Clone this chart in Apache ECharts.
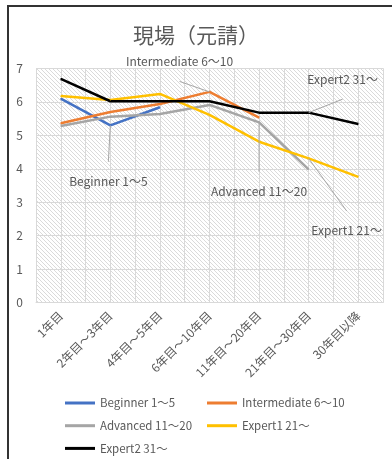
<!DOCTYPE html>
<html>
<head>
<meta charset="utf-8">
<script src="https://cdn.jsdelivr.net/npm/echarts@6/dist/echarts.min.js"></script>
<style>
  html, body { margin: 0; padding: 0; background: #fff; }
  #chart { width: 392px; height: 459px; }
</style>
</head>
<body>
<div id="chart"></div>
<script>
// Categories (years of experience) and average scores per group
const categories = ['1年目', '2年目～3年目', '4年目～5年目', '6年目～10年目', '11年目～20年目', '21年目～30年目', '30年目以降'];
const beginner     = [6.10, 5.30, 5.84, null, null, null, null];
const intermediate = [5.36, 5.70, 5.94, 6.30, 5.53, null, null];
const advanced     = [5.28, 5.56, 5.64, 5.91, 5.39, 3.98, null];
const expert1      = [6.18, 6.06, 6.24, 5.61, 4.81, 4.31, 3.76];
const expert2      = [6.69, 6.02, 6.02, 6.02, 5.68, 5.68, 5.34];
const yTicks = [0, 1, 2, 3, 4, 5, 6, 7];

const FONT = '"Noto Sans CJK JP", "Noto Sans", sans-serif';
const TEXT = '#595959';

// diagonal hatch used as the plot background
function hatch() {
  const c = document.createElement('canvas');
  c.width = 4; c.height = 4;
  const g = c.getContext('2d');
  g.fillStyle = '#ffffff';
  g.fillRect(0, 0, 4, 4);
  g.strokeStyle = '#dadada';
  g.lineWidth = 1;
  g.beginPath();
  g.moveTo(-1, -1); g.lineTo(5, 5);
  g.moveTo(-1, 3); g.lineTo(1, 5);
  g.moveTo(3, -1); g.lineTo(5, 1);
  g.stroke();
  return { image: c, repeat: 'repeat' };
}

// series definitions: which point carries the name callout and its offset
const seriesDefs = [
  { name: 'Beginner 1～5',      values: beginner,     color: '#4472C4', labelIdx: 1, dx: -2, dy: 56 },
  { name: 'Intermediate 6～10', values: intermediate, color: '#ED7D31', labelIdx: 3, dx: -30, dy: -30 },
  { name: 'Advanced 11～20',    values: advanced,     color: '#A5A5A5', labelIdx: 4, dx: 0, dy: 69 },
  { name: 'Expert1 21～',       values: expert1,      color: '#FFC000', labelIdx: 5, dx: 38, dy: 72 },
  { name: 'Expert2 31～',       values: expert2,      color: '#000000', labelIdx: 5, dx: 34, dy: -33 }
];

function makeSeries(d) {
  return {
    name: d.name,
    type: 'line',
    data: d.values.map((v, i) => i === d.labelIdx
      ? { value: v, label: { show: true, formatter: d.name } }
      : v),
    symbol: 'circle',
    symbolSize: 1,
    showSymbol: true,
    connectNulls: false,
    lineStyle: { color: d.color, width: 2.5 },
    itemStyle: { color: d.color },
    label: {
      show: false, position: 'inside',
      fontFamily: FONT, fontSize: 12, color: TEXT
    },
    labelLayout: { dx: d.dx, dy: d.dy, hideOverlap: false },
    emphasis: { disabled: true }
  };
}

const frame = {
  type: 'rect',
  shape: { x: 8, y: 6, width: 430, height: 480 },
  style: { fill: 'none', stroke: '#333', lineWidth: 2 },
  silent: true
};

const legendText = { fontFamily: FONT, fontSize: 11.5, color: TEXT, lineHeight: 14 };

const chart = echarts.init(document.getElementById('chart'), null, { renderer: 'canvas' });
chart.setOption({
  animation: false,
  backgroundColor: '#ffffff',
  title: {
    text: '現場（元請）',
    left: 'center',
    top: 20,
    textStyle: { fontFamily: FONT, fontSize: 21, fontWeight: 'normal', color: TEXT }
  },
  graphic: [frame],
  grid: {
    left: 36, right: 9, top: 68.5, bottom: 156.5,
    show: true, borderWidth: 0,
    backgroundColor: hatch()
  },
  legend: [
    {
      orient: 'vertical', left: 65, top: 396, padding: 0, height: 80,
      data: ['Beginner 1～5', 'Advanced 11～20', 'Expert2 31～'],
      icon: 'rect', itemWidth: 30, itemHeight: 3, itemGap: 8.7,
      textStyle: legendText
    },
    {
      orient: 'vertical', left: 207, top: 396, padding: 0, height: 80,
      data: ['Intermediate 6～10', 'Expert1 21～'],
      icon: 'rect', itemWidth: 30, itemHeight: 3, itemGap: 8.7,
      textStyle: legendText
    }
  ],
  xAxis: [
    {
      type: 'category',
      data: categories,
      boundaryGap: true,
      axisLine: { lineStyle: { color: '#d9d9d9' } },
      axisTick: { show: false },
      splitLine: { show: true, lineStyle: { color: '#d9d9d9', width: 1 } },
      axisLabel: {
        rotate: 45, margin: 11, interval: 0,
        fontFamily: FONT, fontSize: 12, color: TEXT
      }
    },
    {
      // finer vertical grid: two cells per category
      type: 'category',
      data: Array.from({ length: categories.length * 2 }, (_, i) => String(i)),
      boundaryGap: true,
      position: 'top',
      axisLine: { show: false },
      axisTick: { show: false },
      axisLabel: { show: false },
      splitLine: { show: true, interval: 0, lineStyle: { color: '#d9d9d9', width: 1 } }
    }
  ],
  yAxis: {
    type: 'value',
    min: yTicks[0], max: yTicks[yTicks.length - 1], interval: 1,
    axisLine: { show: false },
    axisTick: { show: false },
    splitLine: { lineStyle: { color: '#d9d9d9', width: 1 } },
    axisLabel: { margin: 13, fontFamily: FONT, fontSize: 12, color: TEXT }
  },
  series: seriesDefs.map(makeSeries)
});

// straight leader lines from each labelled point to just short of its label
const GAP = 19.5;
const leaders = seriesDefs.map((d, si) => {
  const p = chart.convertToPixel({ seriesIndex: si }, [d.labelIdx, d.values[d.labelIdx]]);
  const ex = p[0] + d.dx;
  const ey = p[1] + d.dy + (d.dy > 0 ? -GAP : GAP);
  return {
    type: 'line',
    shape: { x1: p[0], y1: p[1], x2: ex, y2: ey },
    style: { stroke: '#a6a6a6', lineWidth: 1 },
    z: 5,
    silent: true
  };
});
chart.setOption({ graphic: [frame].concat(leaders) }, { replaceMerge: ['graphic'] });
</script>
</body>
</html>
